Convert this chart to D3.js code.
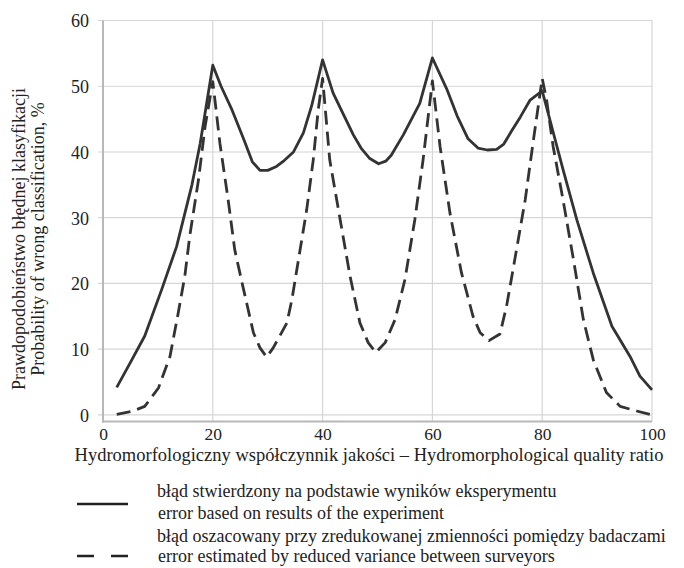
<!DOCTYPE html>
<html>
<head>
  <meta charset="UTF-8">
  <title>Probability of wrong classification</title>
  <script src="https://d3js.org/d3.v7.min.js"></script>
  <style>
    body { margin: 0; background: #fff; }
    svg text { font-family: "Liberation Serif", "Times New Roman", serif; fill: #222; }
    .grid line { stroke: #d6d6d6; stroke-width: 1.2; }
    .axis-line { stroke: #b8b8b8; stroke-width: 2; }
    .series { fill: none; stroke: #333; stroke-width: 2.8; stroke-linejoin: round; }
  </style>
</head>
<body>

<div class="chart"></div>

<script>
  // x ticks and y ticks
  var xTicks = [0, 20, 40, 60, 80, 100];
  var yTicks = [0, 10, 20, 30, 40, 50, 60];

  // błąd stwierdzony na podstawie wyników eksperymentu
  var experimentError = [
    [2.5, 4.2], [5, 8.0], [7.6, 12.0], [10.7, 19.1], [13.4, 25.6], [16.2, 35.0],
    [17.7, 41.3], [20, 53.2], [21.5, 50.0], [23.5, 46.4], [25.6, 42.0], [27.2, 38.5],
    [28.6, 37.2], [30, 37.2], [31.6, 37.8], [33, 38.7], [34.7, 40.0], [36.5, 42.9],
    [38, 47.0], [40, 54.0], [41.9, 49.0], [43.5, 46.2], [45.6, 42.6], [47, 40.6],
    [48.6, 39.0], [50.2, 38.2], [51.5, 38.6], [52.5, 39.5], [54.7, 42.6], [57.7, 47.4],
    [60, 54.3], [62.6, 49.6], [64.5, 45.5], [66.5, 42.0], [68.3, 40.6], [70, 40.3],
    [71.7, 40.4], [73, 41.2], [74.5, 43.3], [76, 45.3], [77.8, 47.9], [80, 49.3],
    [81.4, 44.9], [83.8, 37.3], [86.3, 29.7], [89.3, 21.6], [92.7, 13.5], [96, 8.9],
    [97.8, 5.9], [100, 3.8]
  ];

  // błąd oszacowany przy zredukowanej zmienności
  var reducedVarianceError = [
    [2.5, 0.1], [5.5, 0.6], [7.6, 1.3], [10.1, 4.1], [12.2, 8.9], [13.7, 15.5],
    [14.9, 21.1], [15.8, 27.2], [17.4, 35.8], [18.6, 43.9], [20, 50.7], [21.3, 41.3],
    [22.8, 32.7], [24, 25.1], [25.6, 19.1], [27.4, 12.5], [28.6, 10.2], [29.8, 8.8],
    [31, 10.2], [33.5, 14.0], [34.4, 17.5], [35.6, 23.6], [37.1, 31.2], [38.3, 38.8],
    [39.2, 46.4], [40, 51.2], [41.3, 38.8], [43.2, 29.7], [45, 21.1], [46.8, 14.0],
    [48.3, 11.0], [49.7, 9.5], [51.4, 11.0], [53.2, 14.5], [55, 20.6], [56.8, 29.7],
    [58.3, 38.8], [60, 50.8], [61.4, 40.8], [63.2, 30.7], [65.3, 21.6], [67.4, 15.0],
    [68.7, 12.5], [70.3, 11.3], [72.3, 12.3], [73.5, 16.5], [75, 23.6], [76.9, 32.7],
    [78.4, 41.8], [80, 51.2], [80.8, 47.9], [82, 40.8], [83.8, 32.7], [85.7, 23.6],
    [87.5, 14.5], [89.3, 8.4], [91.7, 3.4], [94.2, 1.3], [97.2, 0.6], [100, 0.0]
  ];

  var xTitle = 'Hydromorfologiczny współczynnik jakości – Hydromorphological quality ratio';
  var yTitle = ['Prawdopodobieństwo błędnej klasyfikacji', 'Probability of wrong classification, %'];
  var legendLabels = [
    ['błąd stwierdzony na podstawie wyników eksperymentu', 'error based on results of the experiment'],
    ['błąd oszacowany przy zredukowanej zmienności pomiędzy badaczami', 'error estimated by reduced variance between surveyors']
  ];

  var W = 684, H = 568;
  var plotLeft = 103, plotRight = 652, plotTop = 20.5, plotBottom = 421.5;

  var svg = d3.select('.chart')
    .append('svg')
      .attr('width', W)
      .attr('height', H);

  var x = d3.scaleLinear().domain([0, 100]).range([plotLeft, plotRight]);
  var y = d3.scaleLinear().domain([-1, 60]).range([plotBottom, plotTop]);

  // grid
  var grid = svg.append('g').attr('class', 'grid');
  grid.selectAll('.h')
    .data(yTicks)
    .enter().append('line')
      .attr('x1', plotLeft - 5).attr('x2', plotRight)
      .attr('y1', d => y(d)).attr('y2', d => y(d));
  grid.selectAll('.v')
    .data(xTicks.slice(1))
    .enter().append('line')
      .attr('x1', d => x(d)).attr('x2', d => x(d))
      .attr('y1', plotTop).attr('y2', plotBottom);

  svg.append('line').attr('class', 'axis-line')
    .attr('x1', plotLeft).attr('x2', plotLeft).attr('y1', plotTop).attr('y2', plotBottom + 1);
  svg.append('line').attr('class', 'axis-line')
    .attr('x1', plotLeft - 1).attr('x2', plotRight).attr('y1', plotBottom).attr('y2', plotBottom);

  // tick labels via d3 axes, without lines
  var yAxis = d3.axisLeft(y).tickValues(yTicks).tickSize(0).tickPadding(14);
  svg.append('g')
    .attr('transform', 'translate(' + plotLeft + ',0)')
    .call(yAxis)
    .call(g => g.select('.domain').remove())
    .selectAll('text')
      .attr('fill', '#222')
      .style('font-size', '18px')
      .attr('dy', '0.36em');

  var xAxis = d3.axisBottom(x).tickValues(xTicks).tickSize(0).tickPadding(6.5);
  svg.append('g')
    .attr('transform', 'translate(0,' + plotBottom + ')')
    .call(xAxis)
    .call(g => g.select('.domain').remove())
    .selectAll('text')
      .attr('fill', '#222')
      .style('font-size', '17.5px');

  // axis titles
  svg.append('text')
    .attr('x', 369).attr('y', 461)
    .attr('text-anchor', 'middle')
    .style('font-size', '18.5px')
    .text(xTitle);

  svg.selectAll('.ytitle')
    .data(yTitle)
    .enter().append('text')
      .attr('transform', (d, i) => 'translate(' + (25 + i * 19) + ',239) rotate(-90)')
      .attr('text-anchor', 'middle')
      .style('font-size', '18px')
      .text(d => d);

  // series
  var line = d3.line().x(d => x(d[0])).y(d => y(d[1]));

  svg.append('path')
    .datum(experimentError)
    .attr('class', 'series')
    .attr('d', line);

  svg.append('path')
    .datum(reducedVarianceError)
    .attr('class', 'series')
    .attr('stroke-dasharray', '14,7')
    .attr('d', line);

  // legend
  var legendY = [504, 556];
  var legendText = [[497, 519], [542, 562]];
  svg.selectAll('.lg-line')
    .data(legendY)
    .enter().append('line')
      .attr('x1', 77).attr('x2', 128)
      .attr('y1', d => d).attr('y2', d => d)
      .attr('stroke', '#222')
      .attr('stroke-width', 2.6)
      .attr('stroke-dasharray', (d, i) => i === 1 ? '17,17' : null);

  legendLabels.forEach(function(pair, i) {
    pair.forEach(function(t, j) {
      svg.append('text')
        .attr('x', 157 + j)
        .attr('y', legendText[i][j])
        .style('font-size', '18px')
        .text(t);
    });
  });
</script>

</body>
</html>
